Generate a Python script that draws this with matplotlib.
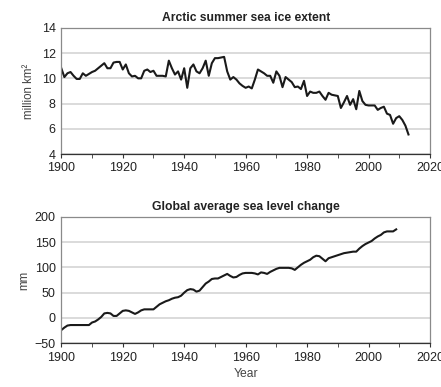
import matplotlib

matplotlib.use("Agg")

import matplotlib.pyplot as plt
from matplotlib.ticker import MultipleLocator

plt.rcParams["font.family"] = ["Liberation Sans", "DejaVu Sans"]

# Arctic summer sea ice extent, million km^2, 1900-2013
ice_years = list(range(1900, 2014))
ice_extent = [
    10.8, 10.1, 10.4, 10.5, 10.2, 9.95, 9.95, 10.4, 10.2, 10.35,
    10.5, 10.6, 10.8, 11.0, 11.2, 10.8, 10.8, 11.25, 11.3, 11.3,
    10.7, 11.1, 10.4, 10.15, 10.2, 10.0, 10.0, 10.6, 10.7, 10.5,
    10.6, 10.2, 10.2, 10.2, 10.15, 11.4, 10.8, 10.3, 10.55, 9.9,
    10.8, 9.25, 10.8, 11.1, 10.55, 10.4, 10.8, 11.4, 10.2, 11.2,
    11.6, 11.6, 11.65, 11.7, 10.55, 9.9, 10.1, 9.9, 9.6, 9.4,
    9.25, 9.35, 9.2, 9.9, 10.7, 10.55, 10.4, 10.2, 10.2, 9.65,
    10.55, 10.2, 9.3, 10.1, 9.9, 9.7, 9.3, 9.35, 9.15, 9.8,
    8.6, 8.95, 8.85, 8.85, 8.95, 8.6, 8.3, 8.85, 8.7, 8.65,
    8.6, 7.65, 8.1, 8.6, 7.9, 8.35, 7.55, 9.0, 8.2, 7.9,
    7.85, 7.85, 7.85, 7.5, 7.65, 7.75, 7.2, 7.1, 6.4, 6.85,
    7.0, 6.7, 6.25, 5.55,
]

# Global average sea level change, mm, 1900-2009
sea_years = list(range(1900, 2010))
sea_level = [
    -24, -19, -15, -14, -14, -14, -14, -14, -14, -14,
    -9, -7, -3, 2, 9, 10, 9, 4, 4, 9,
    14, 15, 14, 11, 8, 11, 15, 17, 17, 17,
    17, 22, 27, 30, 33, 35, 38, 40, 41, 44,
    50, 55, 57, 56, 52, 54, 61, 68, 72, 77,
    78, 78, 81, 84, 87, 83, 80, 81, 85, 88,
    89, 89, 89, 88, 86, 90, 89, 87, 91, 94,
    97, 99, 99, 99, 99, 98, 95, 100, 105, 109,
    112, 115, 120, 123, 122, 117, 112, 118, 120, 122,
    124, 126, 128, 129, 130, 131, 131, 137, 142, 146,
    149, 152, 157, 161, 164, 169, 171, 171, 171, 175,
]

ice_ticks = [4, 6, 8, 10, 12, 14]
sea_ticks = [-50, 0, 50, 100, 150, 200]
year_ticks = [1900, 1920, 1940, 1960, 1980, 2000, 2020]

GRID = "#d4d4d4"
FRAME = "#8a8a8a"
TEXT = "#222222"


def style_axis(ax, yticks):
    ax.set_xlim(1900, 2020)
    ax.set_ylim(yticks[0], yticks[-1])
    ax.set_yticks(yticks)
    ax.set_xticks(year_ticks)
    ax.xaxis.set_minor_locator(MultipleLocator(10))
    ax.grid(True, axis="y", color=GRID, linewidth=1.2)
    ax.set_axisbelow(True)
    for s in ax.spines.values():
        s.set_color(FRAME)
        s.set_linewidth(0.9)
    ax.spines["bottom"].set_color("#333333")
    ax.tick_params(axis="y", length=0, pad=4, labelsize=9, colors=TEXT)
    ax.tick_params(axis="x", which="both", direction="out", length=3,
                   color="#333333", labelsize=9, colors=TEXT, pad=3)


fig = plt.figure(figsize=(4.41, 3.87), dpi=100)

ax1 = fig.add_axes([0.139, 0.602, 0.836, 0.326])
ax1.plot(ice_years, ice_extent, color="#1a1a1a", linewidth=1.5)
style_axis(ax1, ice_ticks)
ax1.set_ylabel("million km\u00b2", fontsize=8.3, color="#444444", labelpad=5)
ax1.set_title("Arctic summer sea ice extent", fontsize=8.7, fontweight="bold",
              color=TEXT, pad=5)

ax2 = fig.add_axes([0.139, 0.113, 0.836, 0.327])
ax2.plot(sea_years, sea_level, color="#1a1a1a", linewidth=1.5)
style_axis(ax2, sea_ticks)
ax2.set_ylabel("mm", fontsize=8.3, color="#444444", labelpad=3)
ax2.set_xlabel("Year", fontsize=8.7, color="#444444", labelpad=3)
ax2.set_title("Global average sea level change", fontsize=8.7, fontweight="bold",
              color=TEXT, pad=5)

fig.savefig("out.png", dpi=100)
plt.close(fig)
